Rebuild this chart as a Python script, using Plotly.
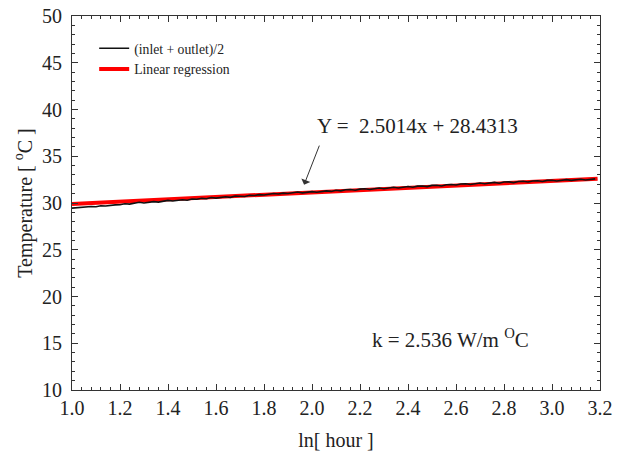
import numpy as np
import plotly.graph_objects as go

# measured data: average of inlet and outlet temperature vs ln(hour)
x_start, x_step = 1.00, 0.02
temp_avg = [
    29.45, 29.50, 29.52, 29.55, 29.62, 29.60, 29.70, 29.68, 29.78, 29.80,
    29.82, 29.92, 29.88, 29.95, 30.08, 30.00, 30.08, 30.15, 30.10, 30.18,
    30.28, 30.22, 30.30, 30.35, 30.30, 30.42, 30.40, 30.50, 30.45, 30.58,
    30.52, 30.62, 30.66, 30.60, 30.74, 30.72, 30.70, 30.82, 30.80, 30.90,
    30.86, 30.94, 31.02, 30.96, 31.06, 31.02, 31.10, 31.18, 31.08, 31.16,
    31.22, 31.15, 31.26, 31.30, 31.24, 31.36, 31.30, 31.42, 31.44, 31.36,
    31.48, 31.52, 31.44, 31.56, 31.60, 31.52, 31.64, 31.68, 31.60, 31.72,
    31.76, 31.68, 31.80, 31.82, 31.75, 31.88, 31.90, 31.82, 31.95, 31.98,
    31.92, 32.04, 32.06, 31.98, 32.10, 32.14, 32.06, 32.16, 32.20, 32.12,
    32.24, 32.26, 32.18, 32.30, 32.32, 32.24, 32.36, 32.38, 32.30, 32.42,
    32.44, 32.36, 32.46, 32.50, 32.42, 32.52, 32.54, 32.46, 32.56, 32.58,
]
ln_hour = np.round(x_start + x_step * np.arange(len(temp_avg)), 4)

# regression line end points (as drawn)
reg_x = [1.00, 3.19]
reg_y = [29.9, 32.6]

x_ticks = [1.0, 1.2, 1.4, 1.6, 1.8, 2.0, 2.2, 2.4, 2.6, 2.8, 3.0, 3.2]
y_ticks = [10, 15, 20, 25, 30, 35, 40, 45, 50]

serif = "Liberation Serif"
ink = "#222222"

fig = go.Figure()
fig.add_trace(go.Scatter(
    x=reg_x, y=reg_y, mode="lines", name="Linear regression",
    line=dict(color="#ff0000", width=4), legendrank=2,
))
fig.add_trace(go.Scatter(
    x=ln_hour, y=temp_avg, mode="lines", name="(inlet + outlet)/2",
    line=dict(color="#111111", width=1.6), legendrank=1,
))

fig.add_annotation(
    x=1.967, y=31.96, ax=2.033, ay=36.3, xref="x", yref="y", axref="x", ayref="y",
    showarrow=True, arrowhead=1, arrowsize=1.6, arrowwidth=1, arrowcolor="#333333",
    text="",
)
fig.add_annotation(
    x=2.44, y=38.2, xref="x", yref="y", showarrow=False,
    text="Y =  2.5014x + 28.4313",
    font=dict(family=serif, size=21, color=ink),
)
fig.add_annotation(
    x=2.575, y=15.5, xref="x", yref="y", showarrow=False,
    text="k = 2.536 W/m <sup>O</sup>C",
    font=dict(family=serif, size=21, color=ink),
)

axis_common = dict(
    showline=True, linecolor="#333333", linewidth=1, mirror="ticks",
    ticks="inside", ticklen=6, tickcolor="#333333", showgrid=False, zeroline=False,
    tickfont=dict(family=serif, size=20, color=ink), automargin=False,
    ticklabeloverflow="allow",
)

fig.update_xaxes(
    range=[1.0, 3.2], tickvals=x_ticks, ticktext=[f"{v:.1f}" for v in x_ticks],
    minor=dict(dtick=0.04, ticks="inside", ticklen=3, tickcolor="#333333", tick0=1.0),
    title=dict(text="ln[ hour ]", font=dict(family=serif, size=20, color=ink), standoff=14),
    **axis_common,
)
fig.update_yaxes(
    range=[10, 50], tickvals=y_ticks, ticklabelstandoff=5,
    minor=dict(dtick=1, ticks="inside", ticklen=3, tickcolor="#333333", tick0=10),
    title=dict(text="Temperature [ <sup>o</sup>C ]", font=dict(family=serif, size=20, color=ink), standoff=4),
    **axis_common,
)

fig.update_layout(
    width=614, height=444,
    margin=dict(l=64, r=22, t=8, b=62),
    paper_bgcolor="white", plot_bgcolor="white",
    showlegend=True,
    legend=dict(
        x=0.042, y=0.955, xanchor="left", yanchor="top",
        bgcolor="rgba(0,0,0,0)", font=dict(family=serif, size=13.7, color=ink),
        tracegroupgap=0, itemwidth=30,
    ),
)

fig.write_html("out.html")
